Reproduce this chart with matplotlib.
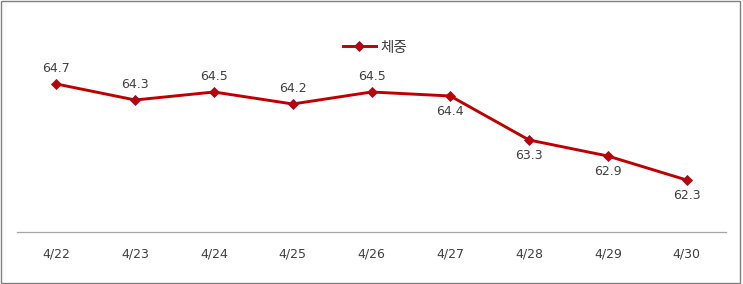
import matplotlib.pyplot as plt
from matplotlib.patches import Rectangle

plt.rcParams['font.family'] = ['Noto Sans CJK KR', 'DejaVu Sans']

dates = ['4/22', '4/23', '4/24', '4/25', '4/26', '4/27', '4/28', '4/29', '4/30']
weight = [64.7, 64.3, 64.5, 64.2, 64.5, 64.4, 63.3, 62.9, 62.3]
label_below = [False, False, False, False, False, True, True, True, True]

fig = plt.figure(figsize=(7.43, 2.84), dpi=100)
ax = fig.add_axes([0.0229, 0.1831, 0.9542, 0.7465])

x = list(range(len(dates)))
ax.plot(x, weight, color='#C00000', lw=2.1, marker='D', ms=5.5,
        markerfacecolor='#C00000', markeredgecolor='#8B1A3A', mew=0.6,
        label='체중')

for xi, v, below in zip(x, weight, label_below):
    off = -11.5 if below else 11
    ax.annotate(f'{v:.1f}', (xi, v), xytext=(0, off), textcoords='offset points',
                ha='center', va='center', fontsize=9, color='#404040',
                family=['DejaVu Sans'])

ax.set_xlim(-0.5, len(dates) - 0.5)
ax.set_ylim(61.0, 66.3)
ax.set_xticks(x)
ax.set_xticklabels(dates, fontsize=9, color='#404040', family=['DejaVu Sans'])
ax.tick_params(axis='x', length=0, pad=11)
ax.set_yticks([])
for s in ['top', 'left', 'right']:
    ax.spines[s].set_visible(False)
ax.spines['bottom'].set_color('#A6A6A6')
ax.spines['bottom'].set_linewidth(0.9)

leg = ax.legend(loc='upper center', bbox_to_anchor=(0.505, 0.965), frameon=False,
                fontsize=10.5, handlelength=2.2, handletextpad=0.3)
for t in leg.get_texts():
    t.set_color('#404040')

fig.patches.append(Rectangle((0.002, 0.005), 0.994, 0.99, transform=fig.transFigure,
                             fill=False, edgecolor='#808080', lw=1.0))

fig.savefig('out.png', dpi=100)
